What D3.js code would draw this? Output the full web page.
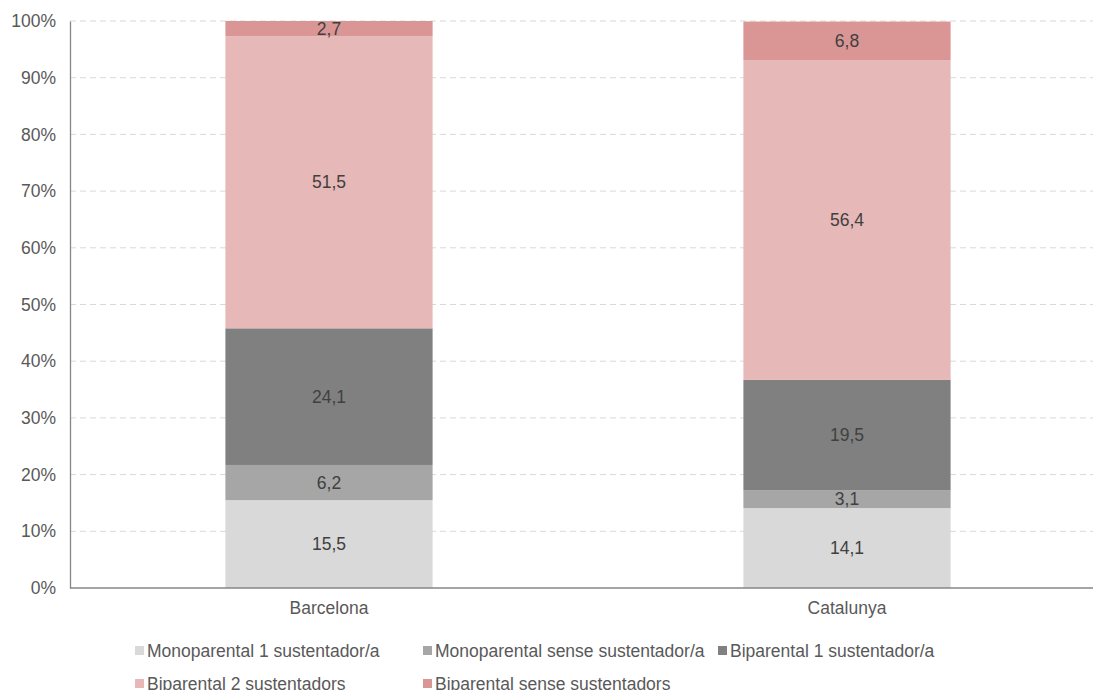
<!DOCTYPE html>
<html><head><meta charset="utf-8">
<script src="https://cdn.jsdelivr.net/npm/d3@7"></script>
<style>body{margin:0;background:#fff}text{font-family:"Liberation Sans",Arial,sans-serif}</style>
</head><body><svg id="c" width="1093" height="690"></svg>
<script>
const categories = ["Barcelona", "Catalunya"];
const seriesNames = ["Monoparental 1 sustentador/a", "Monoparental sense sustentador/a", "Biparental 1 sustentador/a", "Biparental 2 sustentadors", "Biparental sense sustentadors"];
const monoparental1 = [15.5, 14.1];
const monoparentalSense = [6.2, 3.1];
const biparental1 = [24.1, 19.5];
const biparental2 = [51.5, 56.4];
const biparentalSense = [2.7, 6.8];
const seriesColors = ["#d9d9d9", "#a6a6a6", "#808080", "#e6b8b7", "#da9694"];
const yTicks = [0, 10, 20, 30, 40, 50, 60, 70, 80, 90, 100];

const seriesValues = [monoparental1, monoparentalSense, biparental1, biparental2, biparentalSense];
const rows = categories.map((c, i) => {
  const r = {cat: c};
  seriesNames.forEach((s, j) => r[s] = seriesValues[j][i]);
  return r;
});
const stacked = d3.stack().keys(seriesNames)(rows);

const FS = 17.5;
const svg = d3.select("#c");
const x = d3.scaleBand().domain(categories).range([70, 1106]).paddingInner(0.6).paddingOuter(0.3);
const y = d3.scaleLinear().domain([0, 100]).range([588, 21]);

// grid
svg.append("g").selectAll("line").data(yTicks.filter(t => t > 0)).join("line")
  .attr("x1", 70).attr("x2", 1093).attr("y1", d => y(d)).attr("y2", d => y(d))
  .attr("stroke", "#d9d9d9").attr("stroke-width", 1).attr("stroke-dasharray", "6,4");

// bars
const g = svg.append("g");
stacked.forEach((layer, j) => {
  g.append("g").selectAll("rect").data(layer).join("rect")
    .attr("x", d => x(d.data.cat)).attr("width", x.bandwidth())
    .attr("y", d => y(d[1])).attr("height", d => y(d[0]) - y(d[1]))
    .attr("fill", seriesColors[j]);
  g.append("g").selectAll("text").data(layer).join("text")
    .attr("x", d => x(d.data.cat) + x.bandwidth() / 2)
    .attr("y", d => (y(d[0]) + y(d[1])) / 2)
    .attr("dy", "0.35em").attr("text-anchor", "middle")
    .attr("font-size", FS).attr("fill", "#404040")
    .text(d => d3.format(".1f")(d[1] - d[0]).replace(".", ","));
});

// y axis
const ya = svg.append("g").attr("transform", "translate(70,0)")
  .call(d3.axisLeft(y).tickValues(yTicks).tickSize(0).tickPadding(14).tickFormat(d => d + "%"));
ya.select(".domain").attr("stroke", "#868686").attr("stroke-width", 1.3);
ya.selectAll("text").attr("font-size", FS).attr("fill", "#595959").attr("font-family", "Liberation Sans, Arial, sans-serif");

// x axis
const xa = svg.append("g").attr("transform", "translate(0,588)")
  .call(d3.axisBottom(x).tickSize(0).tickPadding(14));
xa.select(".domain").attr("d", "M70,0H1093").attr("stroke", "#868686").attr("stroke-width", 1.3);
xa.selectAll("text").attr("font-size", FS).attr("fill", "#595959").attr("font-family", "Liberation Sans, Arial, sans-serif");

// legend
const legPos = [[135, 651], [423, 651], [718, 651], [135, 684], [423, 684]];
const leg = svg.append("g");
seriesNames.forEach((s, j) => {
  const [lx, ly] = legPos[j];
  leg.append("rect").attr("x", lx).attr("y", ly - 5).attr("width", 9).attr("height", 9).attr("fill", seriesColors[j]);
  leg.append("text").attr("x", lx + 12).attr("y", ly).attr("dy", "0.35em")
    .attr("font-size", FS).attr("fill", "#595959").text(s);
});
</script></body></html>
